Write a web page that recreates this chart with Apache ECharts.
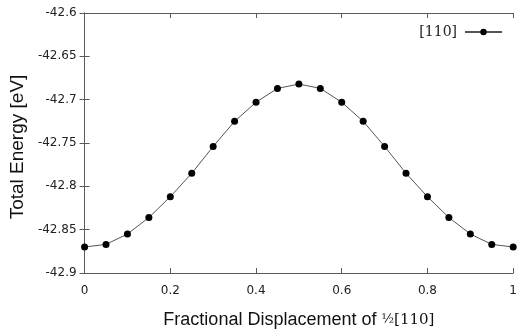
<!DOCTYPE html>
<html>
<head>
<meta charset="utf-8">
<script src="https://cdn.jsdelivr.net/npm/echarts@6/dist/echarts.min.js"></script>
<style>html,body{margin:0;padding:0;background:#fff}#c{width:520px;height:334px}</style>
</head>
<body>
<div id="c"></div>
<script>
const displacement = [0, 0.05, 0.1, 0.15, 0.2, 0.25, 0.3, 0.35, 0.4, 0.45, 0.5, 0.55, 0.6, 0.65, 0.7, 0.75, 0.8, 0.85, 0.9, 0.95, 1];
const energy = [-42.870, -42.867, -42.855, -42.836, -42.812, -42.785, -42.754, -42.725, -42.703, -42.687, -42.682, -42.687, -42.703, -42.725, -42.754, -42.785, -42.812, -42.836, -42.855, -42.867, -42.870];
const seriesName = '[110]';
const yTicks = [-42.9, -42.85, -42.8, -42.75, -42.7, -42.65, -42.6];
const xTicks = [0, 0.2, 0.4, 0.6, 0.8, 1];

const chart = echarts.init(document.getElementById('c'), null, {renderer: 'canvas'});
const axisCol = '#5a5a5a';
const baseX = {
  type: 'value', min: 0, max: 1, interval: 0.2,
  axisLine: {show: true, lineStyle: {color: axisCol, width: 1}},
  axisTick: {show: true, inside: true, length: 5, lineStyle: {color: axisCol}},
  splitLine: {show: false}
};
const baseY = {
  type: 'value', min: -42.9, max: -42.6, interval: 0.05,
  axisLine: {show: true, lineStyle: {color: axisCol, width: 1}},
  axisTick: {show: true, inside: true, length: 5, lineStyle: {color: axisCol}},
  splitLine: {show: false}
};
chart.setOption({
  animation: false,
  grid: {left: 84, right: 5, top: 13, bottom: 58, containLabel: false},
  legend: {
    show: true, right: 12, top: 20, align: 'right',
    itemWidth: 37, itemHeight: 8, itemGap: 0,
    textStyle: {fontFamily: 'DejaVu Serif', fontSize: 14, color: '#222', padding: [0, 3, 0, 0]},
    data: [{name: seriesName}]
  },
  xAxis: [
    Object.assign({}, baseX, {
      position: 'bottom',
      name: '{t|Fractional Displacement of }{f|½}{s|[110]}',
      nameLocation: 'middle', nameGap: 38,
      nameTextStyle: {
        rich: {
          t: {fontFamily: 'Liberation Sans', fontSize: 18, color: '#111'},
          f: {fontFamily: 'DejaVu Serif', fontSize: 13, color: '#111'},
          s: {fontFamily: 'DejaVu Serif', fontSize: 15, color: '#111'}
        }
      },
      axisLabel: {
        margin: 12, fontFamily: 'DejaVu Sans', fontSize: 12, color: '#222',
        formatter: v => xTicks.includes(+v.toFixed(2)) ? String(+v.toFixed(2)) : ''
      }
    }),
    Object.assign({}, baseX, {position: 'top', axisLabel: {show: false}})
  ],
  yAxis: [
    Object.assign({}, baseY, {
      position: 'left',
      name: 'Total Energy [eV]', nameLocation: 'middle', nameGap: 55,
      nameTextStyle: {fontFamily: 'Liberation Sans', fontSize: 19, color: '#111', padding: [0, 8, 0, 0]},
      axisLabel: {
        margin: 8, fontFamily: 'DejaVu Sans', fontSize: 12, color: '#222',
        formatter: v => String(+v.toFixed(2))
      }
    }),
    Object.assign({}, baseY, {position: 'right', axisLabel: {show: false}})
  ],
  series: [{
    name: seriesName, type: 'line',
    data: displacement.map((x, i) => [x, energy[i]]),
    symbol: 'circle', symbolSize: 7, showSymbol: true,
    lineStyle: {color: '#555', width: 1},
    itemStyle: {color: '#000', borderWidth: 0}
  }]
});
</script>
</body>
</html>
